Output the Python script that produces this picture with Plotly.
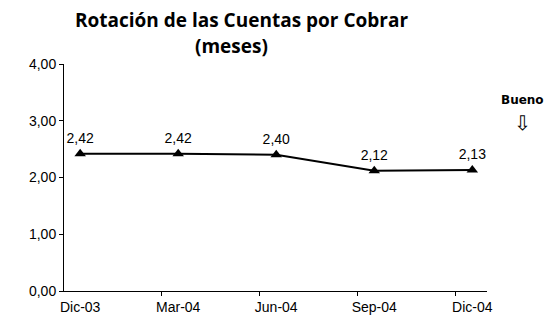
import plotly.graph_objects as go

# Rotación de cuentas por cobrar, en meses
periodos = ["Dic-03", "Mar-04", "Jun-04", "Sep-04", "Dic-04"]
rotacion = [2.42, 2.42, 2.40, 2.12, 2.13]
y_ticks = [0, 1, 2, 3, 4]

x_pos = list(range(len(periodos)))

fig = go.Figure()
fig.add_trace(go.Scatter(
    x=x_pos,
    y=rotacion,
    mode="lines+markers+text",
    line=dict(color="black", width=2),
    marker=dict(symbol="triangle-up", size=10, color="black"),
    text=[f"{v:.2f}".replace(".", ",") for v in rotacion],
    textposition="top center",
    textfont=dict(family="Liberation Sans, Arial", size=14, color="black"),
    cliponaxis=False,
    showlegend=False,
))

fig.update_layout(
    width=556,
    height=325,
    margin=dict(l=64, r=69, t=64, b=34, autoexpand=False),
    paper_bgcolor="white",
    plot_bgcolor="white",
    separators=",.",
    xaxis=dict(
        range=[-0.165, 4.15],
        tickvals=x_pos,
        ticktext=periodos,
        ticks="",
        ticklabelstandoff=3,
        showline=True,
        linecolor="black",
        linewidth=1,
        showgrid=False,
        zeroline=False,
        tickfont=dict(family="Liberation Sans, Arial", size=14, color="black"),
        minor=dict(
            tickvals=[i + 0.83 for i in x_pos[:-1]],
            ticks="outside",
            ticklen=4,
            tickcolor="black",
            showgrid=False,
        ),
    ),
    yaxis=dict(
        range=[0, 4],
        tickvals=y_ticks,
        tickformat=".2f",
        ticks="outside",
        ticklen=4,
        tickcolor="black",
        showline=True,
        linecolor="black",
        linewidth=1,
        showgrid=False,
        zeroline=False,
        tickfont=dict(family="Liberation Sans, Arial", size=14, color="black"),
    ),
)

# Título en dos líneas
titulo_font = dict(family="Open Sans", size=19, color="black", weight="bold")
fig.add_annotation(
    text="Rotación de las Cuentas por Cobrar",
    xref="paper", yref="paper",
    x=0.42, y=1.0 + 44 / 227,
    xanchor="center", yanchor="middle",
    showarrow=False, font=titulo_font,
)
fig.add_annotation(
    text="(meses)",
    xref="paper", yref="paper",
    x=0.397, y=1.0 + 18 / 227,
    xanchor="center", yanchor="middle",
    showarrow=False, font=titulo_font,
)

fig.add_annotation(
    text="<b>Bueno</b>",
    xref="paper", yref="paper",
    x=1.083, y=0.841,
    xanchor="center", yanchor="middle",
    showarrow=False,
    font=dict(family="DejaVu Sans", size=12, color="black"),
)
fig.add_annotation(
    text="⇩",
    xref="paper", yref="paper",
    x=1.085, y=0.74,
    xanchor="center", yanchor="middle",
    showarrow=False,
    font=dict(family="DejaVu Sans", size=20, color="black"),
)

fig.write_html("out.html")
